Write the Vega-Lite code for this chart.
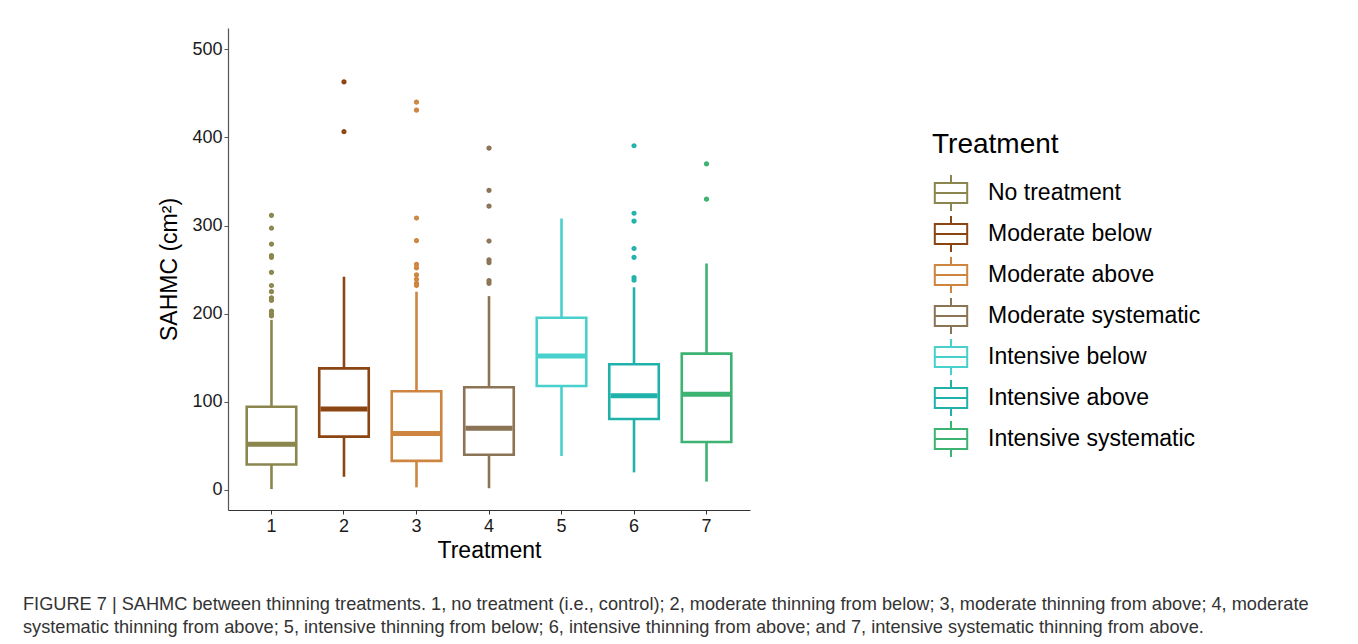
{
  "$schema": "https://vega.github.io/schema/vega-lite/v6.json",
  "width": 522,
  "height": 482,
  "autosize": {"type": "none"},
  "padding": {"left": 228, "top": 28, "right": 608, "bottom": 134},
  "background": "white",
  "config": {
    "view": {"stroke": null},
    "font": "Liberation Sans"
  },
  "title": {
    "text": ["FIGURE 7 | SAHMC between thinning treatments. 1, no treatment (i.e., control); 2, moderate thinning from below; 3, moderate thinning from above; 4, moderate", "systematic thinning from above; 5, intensive thinning from below; 6, intensive thinning from above; and 7, intensive systematic thinning from above."],
    "orient": "bottom",
    "anchor": "start",
    "frame": "group",
    "dx": -205,
    "offset": 34,
    "fontSize": 18.2,
    "fontWeight": "normal",
    "color": "#333333",
    "lineHeight": 23,
    "font": "Liberation Sans"
  },
  "datasets": {
    "boxes": [
      {"Treatment": "1", "name": "No treatment", "lo": 1, "q1": 29, "med": 52, "q3": 94.5, "hi": 193},
      {"Treatment": "2", "name": "Moderate below", "lo": 15, "q1": 60.5, "med": 92, "q3": 138, "hi": 242},
      {"Treatment": "3", "name": "Moderate above", "lo": 3, "q1": 33, "med": 64, "q3": 112, "hi": 225},
      {"Treatment": "4", "name": "Moderate systematic", "lo": 2, "q1": 40, "med": 70, "q3": 116.5, "hi": 220},
      {"Treatment": "5", "name": "Intensive below", "lo": 38.6, "q1": 118, "med": 152, "q3": 195.5, "hi": 308},
      {"Treatment": "6", "name": "Intensive above", "lo": 20, "q1": 80.5, "med": 107, "q3": 142.6, "hi": 230},
      {"Treatment": "7", "name": "Intensive systematic", "lo": 9.5, "q1": 54.5, "med": 108.5, "q3": 154.7, "hi": 257}
    ],
    "outliers": [
      {"Treatment": "1", "name": "No treatment", "value": 311.6},
      {"Treatment": "1", "name": "No treatment", "value": 297},
      {"Treatment": "1", "name": "No treatment", "value": 279},
      {"Treatment": "1", "name": "No treatment", "value": 266},
      {"Treatment": "1", "name": "No treatment", "value": 264},
      {"Treatment": "1", "name": "No treatment", "value": 247},
      {"Treatment": "1", "name": "No treatment", "value": 232},
      {"Treatment": "1", "name": "No treatment", "value": 225},
      {"Treatment": "1", "name": "No treatment", "value": 218},
      {"Treatment": "1", "name": "No treatment", "value": 215},
      {"Treatment": "1", "name": "No treatment", "value": 203},
      {"Treatment": "1", "name": "No treatment", "value": 200},
      {"Treatment": "1", "name": "No treatment", "value": 197.5},
      {"Treatment": "2", "name": "Moderate below", "value": 463},
      {"Treatment": "2", "name": "Moderate below", "value": 406.5},
      {"Treatment": "3", "name": "Moderate above", "value": 440},
      {"Treatment": "3", "name": "Moderate above", "value": 431},
      {"Treatment": "3", "name": "Moderate above", "value": 308.6},
      {"Treatment": "3", "name": "Moderate above", "value": 283},
      {"Treatment": "3", "name": "Moderate above", "value": 256},
      {"Treatment": "3", "name": "Moderate above", "value": 252},
      {"Treatment": "3", "name": "Moderate above", "value": 244},
      {"Treatment": "3", "name": "Moderate above", "value": 239},
      {"Treatment": "3", "name": "Moderate above", "value": 234.5},
      {"Treatment": "3", "name": "Moderate above", "value": 232},
      {"Treatment": "4", "name": "Moderate systematic", "value": 388},
      {"Treatment": "4", "name": "Moderate systematic", "value": 340},
      {"Treatment": "4", "name": "Moderate systematic", "value": 322},
      {"Treatment": "4", "name": "Moderate systematic", "value": 282.5},
      {"Treatment": "4", "name": "Moderate systematic", "value": 261},
      {"Treatment": "4", "name": "Moderate systematic", "value": 258},
      {"Treatment": "4", "name": "Moderate systematic", "value": 237.5},
      {"Treatment": "4", "name": "Moderate systematic", "value": 234.5},
      {"Treatment": "6", "name": "Intensive above", "value": 390.6},
      {"Treatment": "6", "name": "Intensive above", "value": 314},
      {"Treatment": "6", "name": "Intensive above", "value": 305},
      {"Treatment": "6", "name": "Intensive above", "value": 274},
      {"Treatment": "6", "name": "Intensive above", "value": 264},
      {"Treatment": "6", "name": "Intensive above", "value": 241},
      {"Treatment": "6", "name": "Intensive above", "value": 238},
      {"Treatment": "7", "name": "Intensive systematic", "value": 370},
      {"Treatment": "7", "name": "Intensive systematic", "value": 330}
    ]
  },
  "encoding": {
    "x": {
      "field": "Treatment",
      "type": "ordinal",
      "scale": {"paddingInner": 0.317, "paddingOuter": 0.258},
      "axis": {
        "title": "Treatment",
        "labelAngle": 0,
        "labelFontSize": 18,
        "labelColor": "#1a1a1a",
        "labelPadding": 3,
        "titleFontSize": 23,
        "titleFontWeight": "normal",
        "titleColor": "#000000",
        "titlePadding": 4,
        "domainColor": "#333333",
        "domainWidth": 1.2,
        "tickColor": "#333333",
        "tickSize": 4,
        "grid": false
      }
    }
  },
  "layer": [
    {
      "data": {"name": "boxes"},
      "mark": {"type": "bar", "filled": false, "strokeWidth": 2.6, "opacity": 1},
      "encoding": {
        "y": {
          "field": "q1",
          "type": "quantitative",
          "scale": {"domain": [-22.7, 524.2], "nice": false, "zero": false},
          "axis": {
            "title": "SAHMC (cm²)",
            "values": [0, 100, 200, 300, 400, 500],
            "labelFontSize": 18,
            "labelColor": "#1a1a1a",
            "labelPadding": 2,
            "titleFontSize": 23,
            "titleFontWeight": "normal",
            "titleColor": "#000000",
            "titlePadding": 10,
            "domainColor": "#555555",
            "domainWidth": 1.2,
            "tickColor": "#555555",
            "tickSize": 4,
            "grid": false
          }
        },
        "y2": {"field": "q3"},
        "stroke": {
          "field": "name",
          "type": "nominal",
          "scale": {
            "domain": ["No treatment", "Moderate below", "Moderate above", "Moderate systematic", "Intensive below", "Intensive above", "Intensive systematic"],
            "range": ["#8B864E", "#8B4513", "#CD853F", "#8B7355", "#48D1CC", "#20B2AA", "#3CB371"]
          },
          "legend": {
            "title": "Treatment",
            "orient": "none",
            "legendX": 704,
            "legendY": 103,
            "titleFontSize": 28,
            "titleFontWeight": "normal",
            "titleColor": "#000000",
            "titlePadding": 15,
            "labelFontSize": 23,
            "labelColor": "#000000",
            "labelLimit": 400,
            "labelOffset": 18,
            "rowPadding": -3,
            "symbolType": "M-0.9,-0.55H0.9V0.55H-0.9Z M-0.9,0H0.9 M0,-0.55V-1 M0,0.55V1",
            "symbolSize": 1296,
            "symbolStrokeWidth": 2,
            "symbolFillColor": "white",
            "symbolOpacity": 1,
            "encode": {
              "symbols": {
                "fill": {"value": "white"},
                "strokeWidth": {"value": 2}
              }
            }
          }
        }
      }
    },
    {
      "data": {"name": "boxes"},
      "mark": {"type": "rule", "strokeWidth": 2.6, "opacity": 1},
      "encoding": {
        "y": {"field": "lo", "type": "quantitative"},
        "y2": {"field": "q1"},
        "stroke": {"field": "name", "type": "nominal"}
      }
    },
    {
      "data": {"name": "boxes"},
      "mark": {"type": "rule", "strokeWidth": 2.6, "opacity": 1},
      "encoding": {
        "y": {"field": "q3", "type": "quantitative"},
        "y2": {"field": "hi"},
        "stroke": {"field": "name", "type": "nominal"}
      }
    },
    {
      "data": {"name": "boxes"},
      "mark": {"type": "bar", "filled": false, "strokeWidth": 5, "opacity": 1, "width": {"band": 0.95}},
      "encoding": {
        "y": {"field": "med", "type": "quantitative"},
        "y2": {"field": "med"},
        "stroke": {"field": "name", "type": "nominal"}
      }
    },
    {
      "data": {"name": "outliers"},
      "mark": {"type": "point", "filled": false, "shape": "circle", "size": 8, "opacity": 1, "strokeWidth": 2.4},
      "encoding": {
        "y": {"field": "value", "type": "quantitative"},
        "stroke": {"field": "name", "type": "nominal"}
      }
    }
  ]
}
